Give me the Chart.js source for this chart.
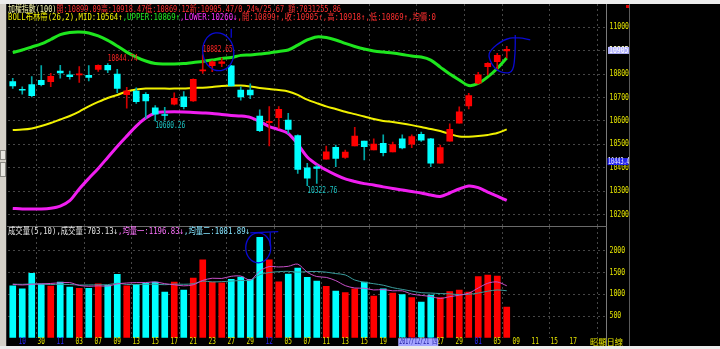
<!DOCTYPE html>
<html>
<head>
<meta charset="utf-8">
<script src="https://cdn.jsdelivr.net/npm/chart.js@4.4.1/dist/chart.umd.min.js"></script>
<style>
  html, body { margin: 0; padding: 0; background: #000; }
  #wrap { position: relative; width: 720px; height: 349px; background: #000; overflow: hidden; }
  canvas { position: absolute; left: 0; }
  #priceCanvas { top: 0; }
  #volCanvas { top: 227px; }
  .strip { position: absolute; left: 0; width: 720px; background: #ececec; }
  .side { position: absolute; left: 0; top: 4px; width: 7px; height: 342px; background: #d4d0c8; border-right: 1px solid #303030; box-sizing: border-box; }
  .btn { position: absolute; left: 0; width: 6px; background: #e8e6e0; border: 1px solid #8c8a84; box-sizing: border-box; }
  .vline { position: absolute; top: 4px; width: 1px; height: 342px; background: #7a7a7a; }
  .hline { position: absolute; left: 7px; width: 600px; height: 1px; background: #6a6a6a; }
  .hdr { position: absolute; left: 8px; white-space: nowrap; font-family: "DejaVu Sans Mono", "Noto Sans CJK TC", monospace; font-size: 9px; line-height: 9px; transform-origin: 0 50%; }
  .tag { position: absolute; white-space: nowrap; font-family: "Noto Sans CJK TC", sans-serif; font-size: 8px; line-height: 8px; color: #e8e800; transform-origin: 0 50%; }
</style>
</head>
<body>
<div id="wrap">
  <canvas id="priceCanvas" width="720" height="227"></canvas>
  <canvas id="volCanvas" width="720" height="122"></canvas>
  <div class="strip" style="top:0;height:4px;"></div>
  <div class="strip" style="top:346px;height:3px;"></div>
  <div class="side"></div>
  <div class="btn" style="top:150px;height:10px;"></div>
  <div class="btn" style="top:162px;height:15px;"></div>
  <div class="vline" style="left:606px;"></div>
  <div class="vline" style="left:629px;background:#5a5a5a;"></div>
  <div class="hline" style="top:226px;"></div>
  <div style="position:absolute;left:626px;top:5px;width:3px;height:3px;background:#e00000;"></div>
  <div class="hdr" id="hdr1" data-w="333" style="top:5px;"></div>
  <div class="hdr" id="hdr2" data-w="428" style="top:13px;"></div>
  <div class="hdr" id="hdr3" data-w="242" style="top:227px;"></div>
  <div class="tag" id="cycleTag" data-w="33" style="left:590px;top:338px;">昭顯日線</div>
</div>
<script>
// x axis: one slot per trading day, empty slots are future days
const dateTicks = ['', '10', '', '30', '', '11', '', '03', '', '07', '', '09', '', '13', '', '15', '', '17', '', '21',
  '', '23', '', '27', '', '29', '', '12', '', '05', '', '07', '', '11', '', '13', '', '15', '', '19',
  '', '21', '', '25', '', '27', '', '29', '', '01', '', '05', '', '09', '', '11', '', '15', '', '17',
  '', '', ''];
const monthTickIdx = [1, 5, 27, 49];
const weekStarts = [3, 8, 13, 18, 23, 28, 33, 38, 43, 48, 52, 57, 62];

// daily OHLC of the index
const open = [10768, 10733, 10755, 10773, 10768, 10813, 10797, 10797, 10795, 10820,
  10838, 10800, 10712, 10727, 10714, 10656, 10626, 10671, 10703, 10685,
  10814, 10836, 10846, 10835, 10732, 10732, 10621, 10592, 10614, 10604,
  10537, 10400, 10404, 10436, 10487, 10444, 10493, 10514, 10476, 10504,
  10468, 10523, 10501, 10543, 10523, 10419, 10513, 10590, 10664, 10761,
  10832, 10853, 10899.09];
const high = [10782, 10746, 10789, 10836, 10803, 10838, 10813, 10832, 10836, 10840,
  10844.74, 10820, 10744, 10741, 10721, 10665, 10658, 10720, 10725, 10780,
  10882.65, 10857, 10868, 10838, 10746, 10758, 10647, 10661, 10661, 10632,
  10540, 10419, 10411, 10492, 10497, 10475, 10573, 10514, 10523, 10540,
  10510, 10540, 10540, 10552, 10526, 10497, 10587, 10660, 10718, 10808,
  10849, 10889, 10918.47];
const low = [10739, 10714, 10702, 10749, 10746, 10783, 10778, 10765, 10771, 10812,
  10806, 10721, 10654, 10675, 10611, 10600.26, 10604, 10668, 10651, 10683,
  10803, 10810, 10832, 10748, 10689, 10695, 10554, 10493, 10568, 10547,
  10376, 10322.76, 10333, 10436, 10404, 10440, 10493, 10433, 10476, 10450,
  10468, 10480, 10486, 10512, 10404, 10419, 10513, 10590, 10651, 10758,
  10796, 10818, 10869.12];
const close = [10750, 10731, 10708, 10755, 10791, 10805, 10789, 10799, 10786, 10838,
  10818, 10739, 10729, 10682, 10685, 10629, 10623, 10697, 10661, 10778,
  10818, 10853, 10852, 10750, 10703, 10711, 10558, 10598, 10650, 10564,
  10393, 10355, 10397, 10468, 10440, 10467, 10535, 10490, 10501, 10464,
  10499, 10485, 10533, 10518, 10419, 10486, 10564, 10639, 10708, 10797,
  10846, 10879.80, 10905.47];

// BOLL(26,2) bands
const upper = [10892, 10903, 10916, 10929, 10948, 10969, 10978, 10980, 10976, 10963,
  10944, 10920, 10894, 10873, 10856, 10845, 10843, 10843, 10845, 10850,
  10854, 10860, 10867, 10871, 10880, 10882, 10886, 10890, 10897, 10903,
  10924, 10946, 10959, 10956, 10946, 10931, 10918, 10907, 10899, 10894,
  10890, 10884, 10877, 10873, 10860, 10830, 10800, 10775, 10751, 10760,
  10788, 10824, 10869];
const mid = [10561, 10563, 10568, 10578, 10591, 10606, 10621, 10640, 10662, 10681,
  10698, 10711, 10726, 10734, 10738, 10739, 10738, 10738, 10739, 10741,
  10742, 10745, 10749, 10751, 10751, 10747, 10741, 10736, 10732, 10726,
  10711, 10691, 10676, 10662, 10651, 10639, 10629, 10619, 10608, 10600,
  10595, 10589, 10582, 10574, 10565, 10557, 10544, 10533, 10532, 10535,
  10540, 10548, 10564];
const lower = [10226, 10224, 10224, 10224, 10227, 10236, 10259, 10309, 10354, 10397,
  10444, 10491, 10535, 10578, 10612, 10634, 10638, 10639, 10638, 10636,
  10634, 10632, 10627, 10623, 10621, 10615, 10597, 10576, 10563, 10546,
  10501, 10446, 10414, 10390, 10369, 10352, 10341, 10332, 10326, 10318,
  10311, 10305, 10298, 10292, 10283, 10277, 10292, 10309, 10322, 10315,
  10296, 10279, 10260];

// volume (億) with its 5 and 10 day averages
const volume = [1198, 1129, 1484, 1237, 1191, 1283, 1168, 1138, 1138, 1244,
  1207, 1461, 1198, 1230, 1253, 1283, 1053, 1283, 1099, 1376,
  1797, 1283, 1267, 1345, 1399, 1345, 2313, 1797, 1290, 1468,
  1606, 1392, 1306, 1184, 1076, 1037, 1129, 1283, 961, 1129,
  1030, 991, 922, 823, 984, 922, 1060, 1099, 1053, 1406,
  1445, 1422, 703.13];
const volMa5 = [1230, 1215, 1230, 1240, 1250, 1265, 1270, 1205, 1185, 1195,
  1190, 1240, 1260, 1270, 1270, 1285, 1245, 1220, 1195, 1220,
  1320, 1370, 1365, 1415, 1420, 1330, 1535, 1640, 1630, 1645,
  1695, 1510, 1410, 1390, 1315, 1200, 1145, 1140, 1100, 1110,
  1080, 1080, 1005, 975, 950, 905, 945, 980, 1025, 1145,
  1255, 1285, 1196.83];
const volMa10 = [1235, 1230, 1240, 1235, 1225, 1230, 1225, 1215, 1215, 1220,
  1222, 1255, 1227, 1226, 1232, 1232, 1221, 1235, 1231, 1244,
  1303, 1286, 1292, 1304, 1319, 1325, 1451, 1502, 1521, 1530,
  1511, 1522, 1526, 1510, 1478, 1447, 1329, 1277, 1244, 1210,
  1153, 1113, 1074, 1038, 1029, 1017, 1011, 992, 1001, 1029,
  1071, 1100, 1081.89];

const priceTicks = [10200, 10300, 10400, 10500, 10600, 10700, 10800, 10900, 11000];
const volTicks = [500, 1000, 1500, 2000];
const markHigh = [10, 20];
const markLow = [15, 31];
const cursorPrice = 10443.4;
const cursorBar = 41;
const cursorDate = '2017/12/21 四';

const UP = '#ff0000', DOWN = '#00ffff';
const GRID = '#464646';
const AXIS_TEXT = '#e6e600';
const INK = '#0a0ad2';

const isUp = close.map((c, i) => c >= open[i]);
const last = close.length - 1;

// small condensed text, squeezed horizontally like the terminal's bitmap font
function narrowText(ctx, text, x, y, color, charW, align) {
  ctx.save();
  ctx.font = '8px "DejaVu Sans Mono", "Noto Sans CJK TC", monospace';
  const w0 = ctx.measureText(text).width;
  const sx = (charW * text.length) / w0;
  ctx.translate(x, y);
  ctx.scale(sx, 1);
  ctx.fillStyle = color;
  ctx.textBaseline = 'middle';
  ctx.textAlign = align || 'left';
  ctx.fillText(text, 0, 0);
  ctx.restore();
}

function smoothPath(ctx, pts) {
  ctx.beginPath();
  ctx.moveTo(pts[0][0], pts[0][1]);
  for (let i = 1; i < pts.length - 1; i++) {
    const mx = (pts[i][0] + pts[i + 1][0]) / 2, my = (pts[i][1] + pts[i + 1][1]) / 2;
    ctx.quadraticCurveTo(pts[i][0], pts[i][1], mx, my);
  }
  const e = pts[pts.length - 1];
  ctx.lineTo(e[0], e[1]);
  ctx.stroke();
}

const commonX = (height) => ({
  offset: true,
  grid: {
    offset: true,
    drawTicks: false,
    color: (c) => weekStarts.includes(c.index) ? GRID : 'transparent'
  },
  border: { display: false, dash: [2, 3] },
  ticks: { display: false, autoSkip: false },
  afterFit: (s) => { s.height = height; }
});

const rightAxis = (min, max, ticks) => ({
  position: 'right',
  min: min,
  max: max,
  afterBuildTicks: (s) => { s.ticks = ticks.map(v => ({ value: v })); },
  grid: { color: GRID, drawTicks: false },
  border: { display: false, dash: [2, 3] },
  ticks: { display: false },
  afterFit: (s) => { s.width = 22.5; }
});

const pricePlugin = {
  id: 'priceText',
  afterDraw(chart) {
    const { ctx, scales: { x, y } } = chart;
    priceTicks.forEach(v => narrowText(ctx, String(v), 609.5, y.getPixelForValue(v), AXIS_TEXT, 3.9));

    markHigh.forEach(i => narrowText(ctx, high[i].toFixed(2), x.getPixelForValue(i), y.getPixelForValue(high[i]) - 4.5, '#ff2424', 3.75));
    markLow.forEach(i => narrowText(ctx, low[i].toFixed(2), x.getPixelForValue(i), y.getPixelForValue(low[i]) + 5.5, '#1cc4c4', 3.75));

    // last price and cursor price badges on the axis
    const yc = y.getPixelForValue(close[last]) + 1;
    ctx.fillStyle = '#b4b4ff';
    ctx.fillRect(608, yc - 3.5, 21, 7);
    narrowText(ctx, Math.floor(close[last]).toString(), 609, yc, '#ffffff', 3.9);
    const yk = y.getPixelForValue(cursorPrice) + 4;
    ctx.fillStyle = '#2626f0';
    ctx.fillRect(607.5, yk - 3.5, 21, 7);
    narrowText(ctx, cursorPrice.toFixed(1), 608, yk, '#f0f0ff', 3.1);

    // pen marks around the recent highs
    ctx.save();
    ctx.strokeStyle = INK;
    ctx.lineWidth = 1.3;
    const ax = x.getPixelForValue(20), ay = y.getPixelForValue(high[20]);
    ctx.beginPath();
    ctx.ellipse(ax + 15.5, ay - 3, 15.5, 19, -0.15, 0, Math.PI * 2);
    ctx.stroke();
    ctx.beginPath();
    ctx.moveTo(ax + 28.5, ay - 26);
    ctx.lineTo(ax + 28.5, ay - 17);
    ctx.stroke();
    const bx = x.getPixelForValue(last), by = y.getPixelForValue(close[last]);
    smoothPath(ctx, [[bx + 23.5, by - 9.5], [bx + 10.5, by - 13], [bx - 4, by - 9.5], [bx - 16.5, by + 0.5],
      [bx - 18.5, by + 8], [bx - 11.5, by + 20.5], [bx - 1.5, by + 24], [bx + 6.5, by + 22.5],
      [bx + 8.5, by + 3.5], [bx + 8.5, by - 14.5]]);
    ctx.restore();
  }
};

const volPlugin = {
  id: 'volText',
  afterDraw(chart) {
    const { ctx, scales: { x, y } } = chart;
    volTicks.forEach(v => narrowText(ctx, String(v), 609.5, y.getPixelForValue(v), AXIS_TEXT, 3.9));
    const ty = chart.chartArea.bottom + 4;
    dateTicks.forEach((t, i) => {
      if (!t) return;
      const c = monthTickIdx.includes(i) ? '#2a2aff' : AXIS_TEXT;
      narrowText(ctx, t, x.getPixelForValue(i), ty, c, 3.65, 'center');
    });
    // date box of the crosshair bar
    const cx = x.getPixelForValue(cursorBar) - 4;
    ctx.fillStyle = '#a4a4ff';
    ctx.fillRect(cx, chart.chartArea.bottom + 0.5, 40, 8);
    ctx.save();
    ctx.font = '8px "DejaVu Sans Mono", "Noto Sans CJK TC", monospace';
    const w0 = ctx.measureText(cursorDate).width;
    ctx.translate(cx + 1, ty);
    ctx.scale(38 / w0, 1);
    ctx.fillStyle = '#1a1aa0';
    ctx.textBaseline = 'middle';
    ctx.fillText(cursorDate, 0, 0);
    ctx.restore();

    // pen mark around the volume spike
    const px = x.getPixelForValue(26), py = y.getPixelForValue(volume[26]);
    ctx.save();
    ctx.strokeStyle = INK;
    ctx.lineWidth = 1.3;
    ctx.beginPath();
    ctx.ellipse(px - 1.5, py + 10.5, 12.5, 15, 0, 0, Math.PI * 2);
    ctx.stroke();
    ctx.beginPath();
    ctx.moveTo(px - 9.5, py - 4.5);
    ctx.lineTo(px + 18.5, py - 5.8);
    ctx.moveTo(px + 10.5, py - 5.2);
    ctx.lineTo(px + 10.5, py + 9);
    ctx.stroke();
    ctx.restore();
  }
};

const baseOptions = {
  responsive: false,
  animation: false,
  events: [],
  plugins: { legend: { display: false }, tooltip: { enabled: false } }
};

new Chart(document.getElementById('priceCanvas'), {
  type: 'bar',
  data: {
    labels: dateTicks,
    datasets: [
      { type: 'line', data: upper, borderColor: '#1ee61e', borderWidth: 3, pointRadius: 0, tension: 0.3, order: 5 },
      { type: 'line', data: mid, borderColor: '#f0f000', borderWidth: 2, pointRadius: 0, tension: 0.3, order: 5 },
      { type: 'line', data: lower, borderColor: '#f01ef0', borderWidth: 3, pointRadius: 0, tension: 0.3, order: 5 },
      {
        data: low.map((l, i) => [l, high[i]]),
        backgroundColor: isUp.map(u => u ? '#d00000' : '#00a8a8'),
        barThickness: 1, grouped: false, borderWidth: 0, order: 3
      },
      {
        data: open.map((o, i) => [o, close[i]]),
        backgroundColor: isUp.map(u => u ? UP : DOWN),
        barThickness: 6, minBarLength: 1, grouped: false, borderWidth: 0, order: 1
      }
    ]
  },
  options: {
    ...baseOptions,
    layout: { padding: { left: 8, right: 91, top: 4, bottom: 1 } },
    scales: {
      x: commonX(0),
      y: rightAxis(10150.9, 11099.6, priceTicks)
    }
  },
  plugins: [pricePlugin]
});

new Chart(document.getElementById('volCanvas'), {
  type: 'bar',
  data: {
    labels: dateTicks,
    datasets: [
      { type: 'line', data: volMa5, borderColor: '#c850c8', borderWidth: 1, pointRadius: 0, tension: 0.3, order: 0 },
      { type: 'line', data: volMa10, borderColor: '#3a9c9c', borderWidth: 1, pointRadius: 0, tension: 0.3, order: 0 },
      {
        data: volume,
        backgroundColor: isUp.map(u => u ? UP : DOWN),
        barThickness: 6, borderWidth: 0, order: 2
      }
    ]
  },
  options: {
    ...baseOptions,
    layout: { padding: { left: 8, right: 91, top: 0, bottom: 0 } },
    scales: {
      x: commonX(11.3),
      y: rightAxis(0, 2551, volTicks)
    }
  },
  plugins: [volPlugin]
});

// header lines
const arrow = (a, b) => (a >= b ? '↑' : '↓');
const span = (t, c) => `<span style="color:${c}">${t}</span>`;
const chg = close[last] - close[last - 1];
const pct = chg / close[last - 1] * 100;
document.getElementById('hdr1').innerHTML =
  span('加權指數(100)', '#f4f4a8') +
  span(`開:${open[last].toFixed(2)}高:${high[last].toFixed(2)}低:${low[last].toFixed(2)}新:${close[last].toFixed(2)}/${pct.toFixed(2)}%/${chg.toFixed(2)} 額:7031255.86`, '#ff3030');
document.getElementById('hdr2').innerHTML =
  span(`BOLL布林帶(26,2),MID:${mid[last].toFixed(0)}${arrow(mid[last], mid[last - 1])}`, '#f0f000') +
  span(`,UPPER:${upper[last].toFixed(0)}${arrow(upper[last], upper[last - 1])}`, '#22ee22') +
  span(`,LOWER:${lower[last].toFixed(0)}${arrow(lower[last], lower[last - 1])}`, '#ff30ff') +
  span(`,開:${Math.floor(open[last])}${arrow(open[last], open[last - 1])},收:${Math.floor(close[last])}${arrow(close[last], close[last - 1])},高:${Math.floor(high[last])}${arrow(high[last], high[last - 1])},低:${Math.floor(low[last])}${arrow(low[last], low[last - 1])},均價:0`, '#ff3030');
document.getElementById('hdr3').innerHTML =
  span(`成交量(5,10),成交量:${volume[last].toFixed(2)}${arrow(volume[last], volume[last - 1])}`, '#e4e4e4') +
  span(`,均量一:${volMa5[last].toFixed(2)}${arrow(volMa5[last], volMa5[last - 1])}`, '#ff74ff') +
  span(`,均量二:${volMa10[last].toFixed(2)}${arrow(volMa10[last], volMa10[last - 1])}`, '#84e4ff');

document.querySelectorAll('[data-w]').forEach(el => {
  const w = el.getBoundingClientRect().width;
  el.style.transform = `scaleX(${Number(el.dataset.w) / w})`;
});
</script>
</body>
</html>
